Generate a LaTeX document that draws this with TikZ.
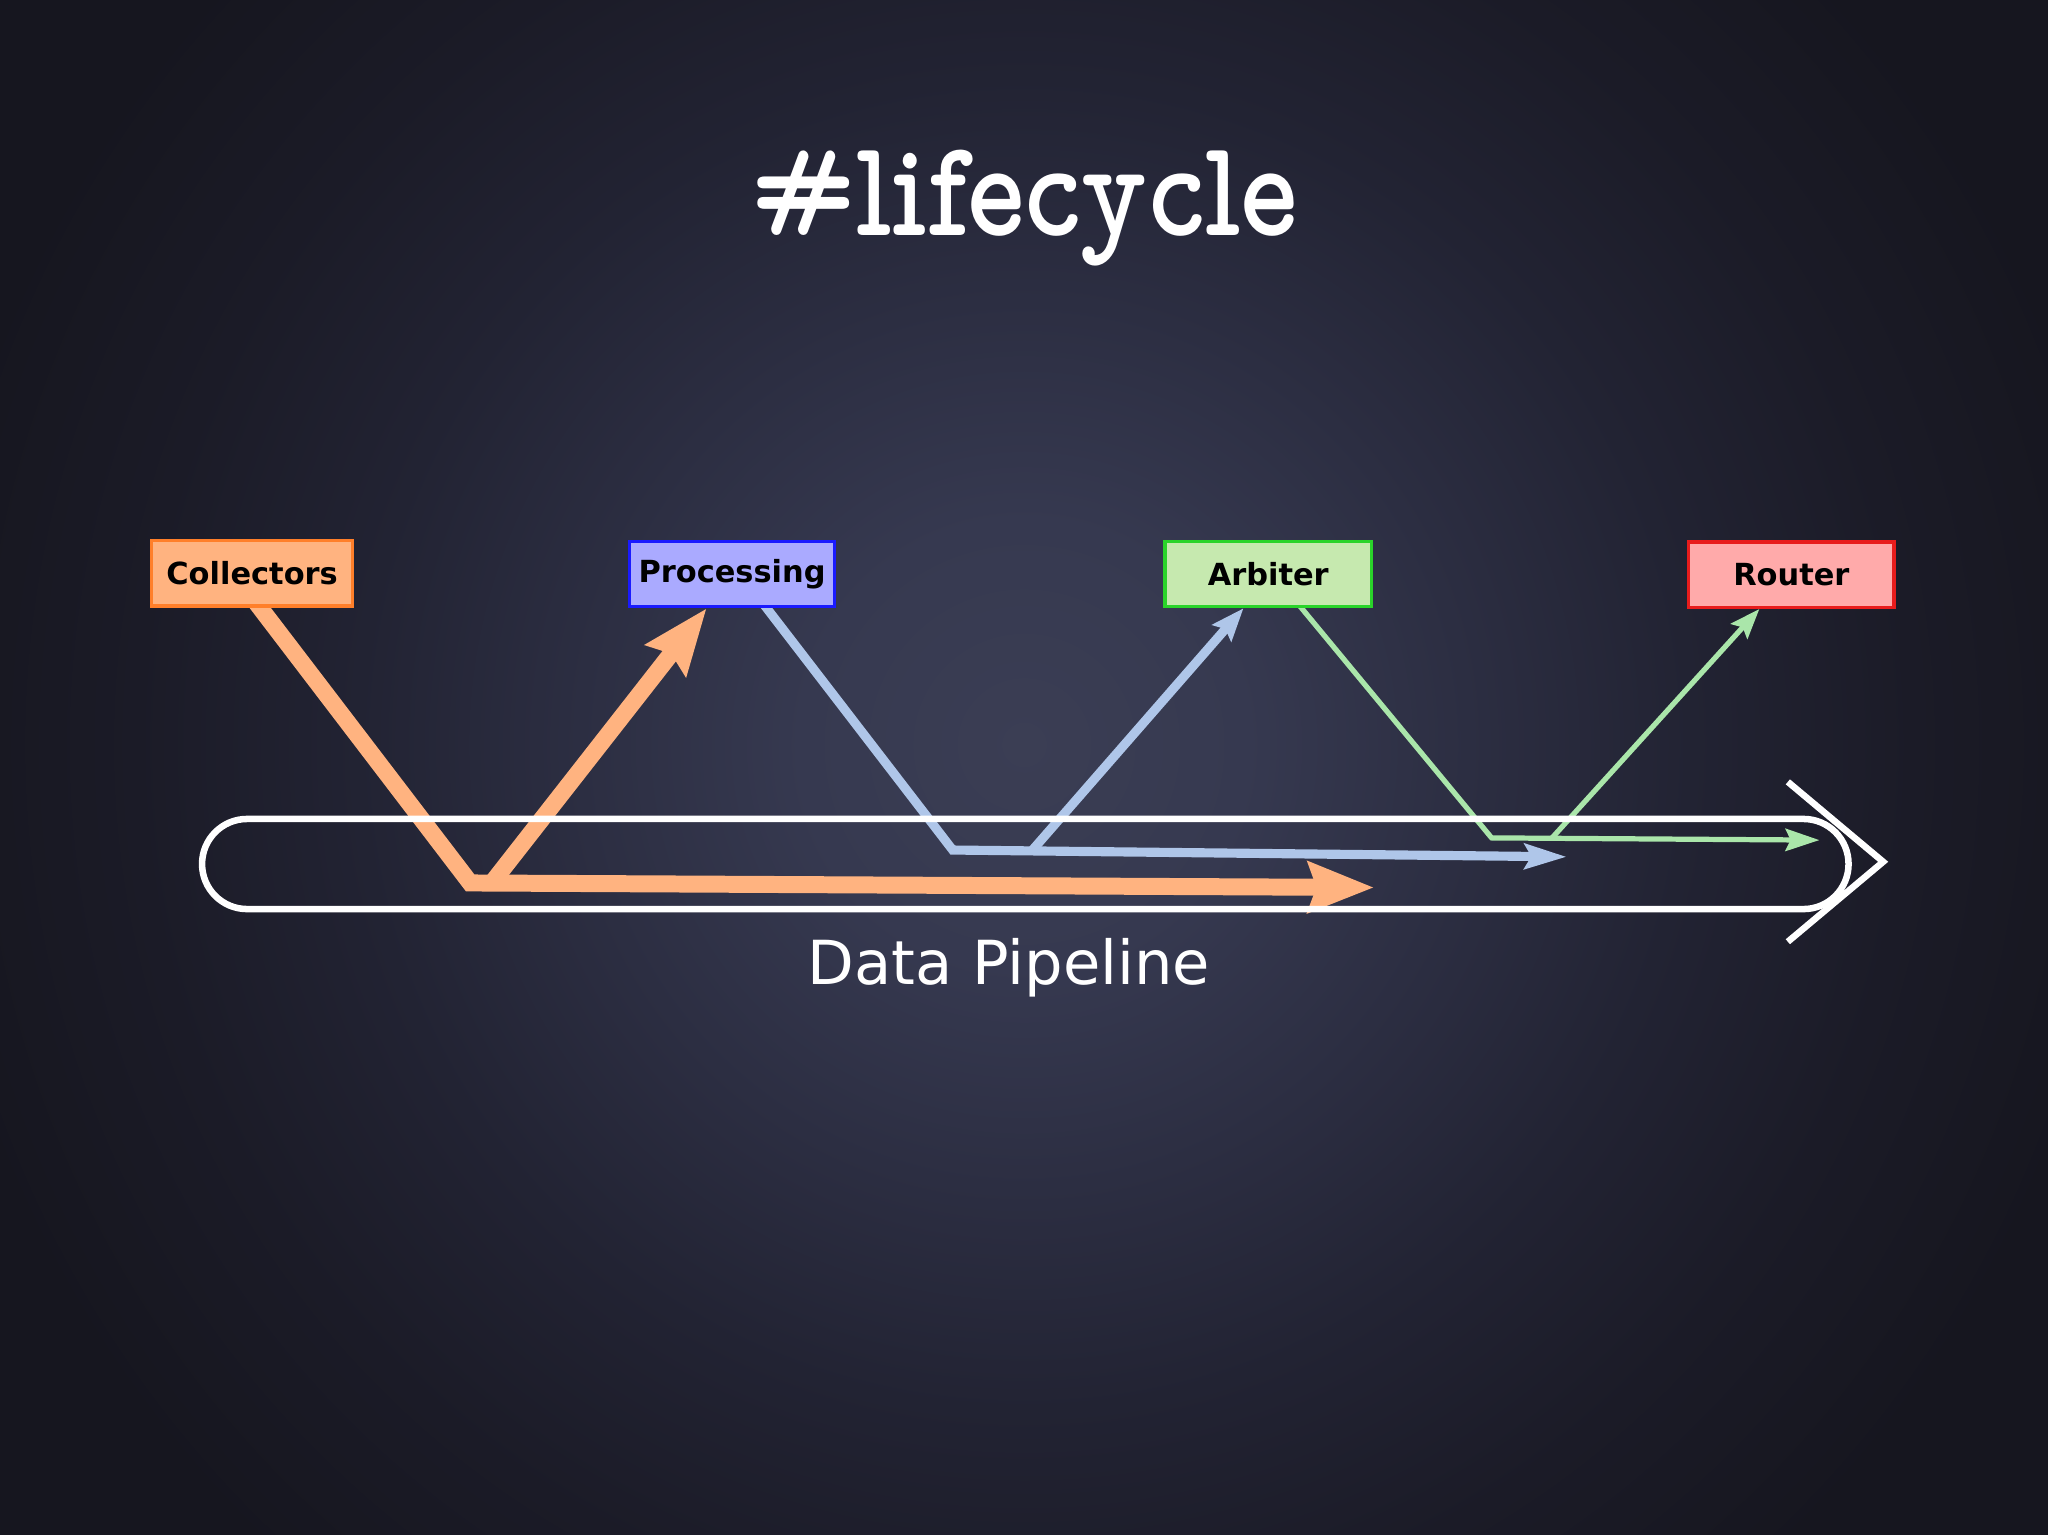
\documentclass[tikz,border=0pt]{standalone}
\usepackage{fontspec}
\usepackage{graphicx}
\newfontfamily\dejavu{DejaVu Sans}
\newfontfamily\titlefont{lmmonoproplt10-bold.otf}
\usetikzlibrary{arrows.meta,calc}
\definecolor{bgA}{HTML}{3B3E54}
\definecolor{bgB}{HTML}{363950}
\definecolor{bgC}{HTML}{2C2E42}
\definecolor{bgD}{HTML}{222333}
\definecolor{bgE}{HTML}{1B1B27}
\definecolor{bgF}{HTML}{16161F}
\definecolor{collFill}{HTML}{FFB380}
\definecolor{collLine}{HTML}{FF7F2A}
\definecolor{procFill}{HTML}{AAAAFF}
\definecolor{procLine}{HTML}{1A1AFF}
\definecolor{arbFill}{HTML}{C6E9AF}
\definecolor{arbLine}{HTML}{2AD42A}
\definecolor{routFill}{HTML}{FFAAAA}
\definecolor{routLine}{HTML}{E81C1C}
\definecolor{flowOrange}{HTML}{FFB380}
\definecolor{flowBlue}{HTML}{AFC6E9}
\definecolor{flowGreen}{HTML}{AAE6AA}
\pgfdeclareradialshading{bgglow}{\pgfpoint{0bp}{0bp}}{color(0bp)=(bgA); color(5bp)=(bgB); color(10bp)=(bgC); color(15bp)=(bgD); color(20bp)=(bgE); color(25bp)=(bgF); color(50bp)=(bgF)}
\pgfdeclarelayer{back}
\pgfdeclarelayer{links}
\pgfsetlayers{back,links,main}
\tikzset{
  box/.style={draw, line width=2.5pt, minimum height=50pt, inner sep=0pt,
    font=\dejavu\bfseries\fontsize{23.3}{28}\selectfont, text=black},
  orangeflow/.style={draw=flowOrange, line width=13pt, line join=miter},
  blueflow/.style={draw=flowBlue, line width=7pt, line join=miter},
  greenflow/.style={draw=flowGreen, line width=4pt, line join=miter},
  pipeline/.style={draw=white, line width=5pt},
}
\begin{document}
\begin{tikzpicture}[x=1pt,y=-1pt]
\useasboundingbox (0,0) rectangle (1568,1175);
\begin{pgfonlayer}{back}
  \fill[bgF] (0,0) rectangle (1568,1175);
  \begin{scope}
    \clip (0,0) rectangle (1568,1175);
    \shade[shading=bgglow] (784,570) circle (850pt);
  \end{scope}
\end{pgfonlayer}

% title
\node[text=white, anchor=base, inner sep=0pt,
  font=\titlefont\fontsize{106}{110}\selectfont] (title) at (784,180)
  {\resizebox{419pt}{\height}{\#lifecycle}};

% boxes
\node[box, fill=collFill, draw=collLine, minimum width=154pt] (coll) at (193,439) {Collectors};
\node[box, fill=procFill, draw=procLine, minimum width=157pt] (proc) at (560.5,439.5) {Processing};
\node[box, fill=arbFill, draw=arbLine, minimum width=158pt] (arb) at (971,439.5) {Arbiter};
\node[box, fill=routFill, draw=routLine, minimum width=157pt] (rout) at (1371.5,440) {Router};

% pipeline
\node[pipeline, rounded corners=34.5pt, minimum width=1260.6pt, minimum height=69pt,
  inner sep=0pt] (pipe) at (785,661.5) {};
\coordinate (c1) at (1368.8,598.6);
\coordinate (c2) at (1441.8,659.8);
\coordinate (c3) at (1368.8,721);
\draw[pipeline, line join=miter] (c1) -- (c2) -- (c3);
\node[text=white, anchor=base, inner sep=0pt, font=\dejavu\fontsize{46.5}{50}\selectfont]
  (plabel) at (772.5,754) {Data Pipeline};

% flows
\coordinate (o1) at (360,676);
\coordinate (o2) at (1052,679.5);
\coordinate (o3) at (376.6,676);
\coordinate (b1) at (729.4,650.8);
\coordinate (b2) at (1199.5,656);
\coordinate (b3) at (789,652.5);
\coordinate (g1) at (1142,641.5);
\coordinate (g2) at (1393,643.2);
\coordinate (g3) at (1188,641.8);

\begin{pgfonlayer}{links}
\draw[orangeflow, -{Stealth[length=50pt,width=38pt,inset=6pt]}]
  ($(coll.south)+(0,-8)$) -- (o1) -- (o2);
\draw[orangeflow, -{Stealth[length=50pt,width=38pt,inset=6pt]}]
  (o3) -- ($(proc.south)+(-19.5,0)$);
\draw[blueflow, -{Stealth[length=32pt,width=19pt,inset=5pt]}]
  ($(proc.south)+(22,-6)$) -- (b1) -- (b2);
\draw[blueflow, -{Stealth[length=25pt,width=19pt,inset=4pt]}]
  (b3) -- ($(arb.south)+(-19,0)$);
\draw[greenflow, -{Stealth[length=26pt,width=17pt,inset=4pt]}]
  ($(arb.south)+(21.5,-5)$) -- (g1) -- (g2);
\draw[greenflow, -{Stealth[length=23pt,width=17pt,inset=4pt]}]
  (g3) -- ($(rout.south)+(-24.5,0)$);
\end{pgfonlayer}
\end{tikzpicture}
\end{document}
